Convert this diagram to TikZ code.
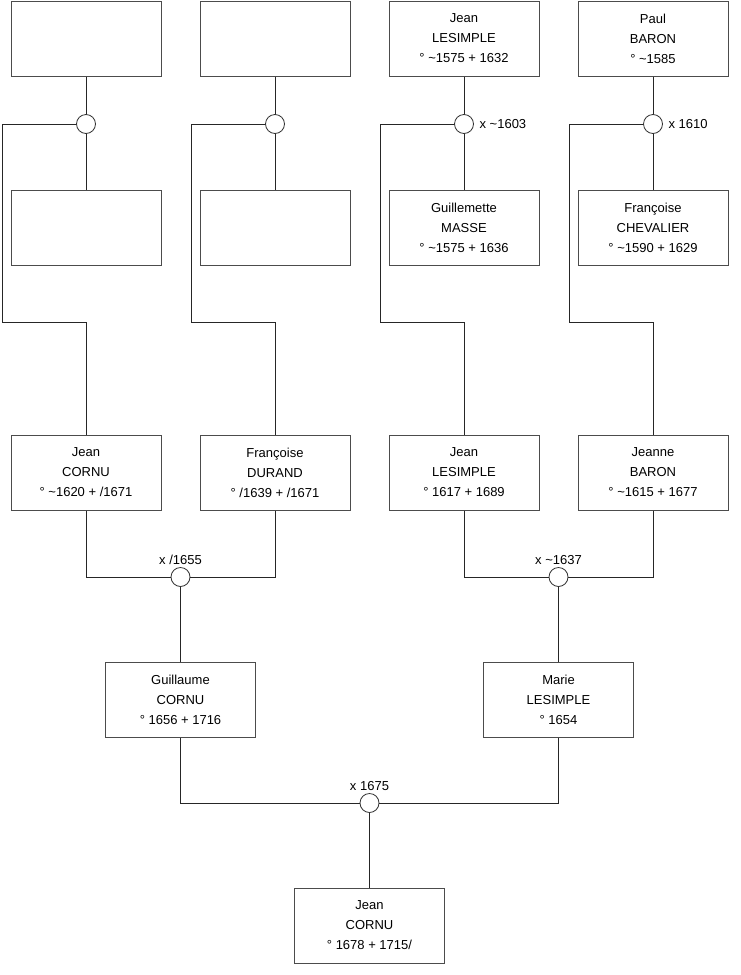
\documentclass[tikz,border=0pt]{standalone}
\usepackage{fontspec}
\setmainfont{Liberation Sans}
\usetikzlibrary{positioning}

\begin{document}
\begin{tikzpicture}[
  x=1pt, y=-1pt,
  person/.style={rectangle, draw=black!70, line width=1pt, fill=white, minimum width=150pt, minimum height=75pt, align=center, inner sep=0pt, font=\fontsize{13}{20}\selectfont},
  union/.style={circle, draw=black!80, line width=0.8pt, fill=white, minimum size=19pt, inner sep=0pt},
  lbl/.style={inner sep=1.5pt, font=\fontsize{13}{15}\selectfont},
  link/.style={line width=1pt, black!85}
]
  \useasboundingbox (0,0) rectangle (740,975);

  % bends of the side links
  \coordinate (k1) at (2,322);
  \coordinate (k2) at (191,322);
  \coordinate (k3) at (380,322);
  \coordinate (k4) at (569,322);

  % generation 1
  \node[person] (u1) at (86,38.5) {};
  \node[person] (u2) at (275,38.5) {};
  \node[person] (jeanLa) at (464,38.5) {Jean\\LESIMPLE\\° \textasciitilde1575 + 1632};
  \node[person] (paulB) at (653,38.5) {Paul\\BARON\\° \textasciitilde1585};

  % unions
  \node[union] (m1) at (86,124) {};
  \node[union] (m2) at (275,124) {};
  \node[union] (m3) at (464,124) {};
  \node[union] (m4) at (653,124) {};
  \node[lbl, right=4pt of m3] (d3) {x \textasciitilde1603};
  \node[lbl, right=4pt of m4] (d4) {x 1610};

  % spouses
  \node[person] (u3) at (86,227.5) {};
  \node[person] (u4) at (275,227.5) {};
  \node[person] (guilM) at (464,227.5) {Guillemette\\MASSE\\° \textasciitilde1575 + 1636};
  \node[person] (franC) at (653,227.5) {Françoise\\CHEVALIER\\° \textasciitilde1590 + 1629};

  % generation 2
  \node[person] (jeanC) at (86,472.5) {Jean\\CORNU\\° \textasciitilde1620 + /1671};
  \node[person] (franD) at (275,472.5) {Françoise\\DURAND\\° /1639 + /1671};
  \node[person] (jeanLb) at (464,472.5) {Jean\\LESIMPLE\\° 1617 + 1689};
  \node[person] (jeanB) at (653,472.5) {Jeanne\\BARON\\° \textasciitilde1615 + 1677};

  \node[union] (m5) at (180.5,577) {};
  \node[union] (m6) at (558.5,577) {};
  \node[lbl, above=1pt of m5] (d5) {x /1655};
  \node[lbl, above=1pt of m6] (d6) {x \textasciitilde1637};

  % generation 3
  \node[person] (guilC) at (180.5,699.5) {Guillaume\\CORNU\\° 1656 + 1716};
  \node[person] (marL) at (558.5,699.5) {Marie\\LESIMPLE\\° 1654};

  \node[union] (m7) at (369.5,803) {};
  \node[lbl, above=1pt of m7] (d7) {x 1675};

  \node[person] (jeanCb) at (369.5,925.5) {Jean\\CORNU\\° 1678 + 1715/};

  \draw[link] (u1) -- (m1);
  \draw[link] (m1) -- (u3);
  \draw[link] (u2) -- (m2);
  \draw[link] (m2) -- (u4);
  \draw[link] (jeanLa) -- (m3);
  \draw[link] (m3) -- (guilM);
  \draw[link] (paulB) -- (m4);
  \draw[link] (m4) -- (franC);

  \draw[link] (m1.west) -| (k1) -| (jeanC.north);
  \draw[link] (m2.west) -| (k2) -| (franD.north);
  \draw[link] (m3.west) -| (k3) -| (jeanLb.north);
  \draw[link] (m4.west) -| (k4) -| (jeanB.north);

  \draw[link] (jeanC.south) |- (m5.west);
  \draw[link] (franD.south) |- (m5.east);
  \draw[link] (m5) -- (guilC);
  \draw[link] (jeanLb.south) |- (m6.west);
  \draw[link] (jeanB.south) |- (m6.east);
  \draw[link] (m6) -- (marL);

  \draw[link] (guilC.south) |- (m7.west);
  \draw[link] (marL.south) |- (m7.east);
  \draw[link] (m7) -- (jeanCb);
\end{tikzpicture}
\end{document}
